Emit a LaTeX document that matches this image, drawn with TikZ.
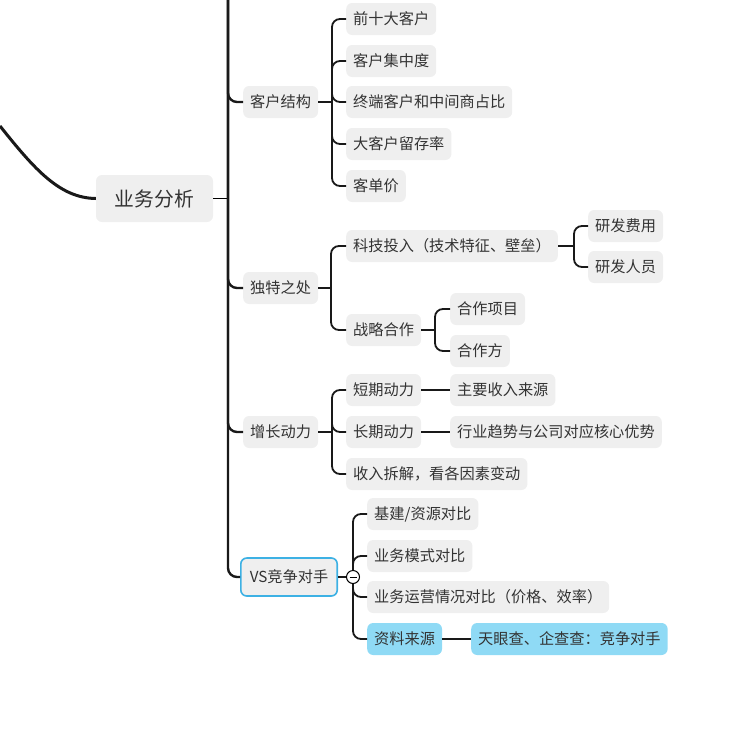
\documentclass[tikz,border=0pt]{standalone}
\usepackage{fontspec}
\setmainfont{Noto Sans CJK SC}
\usetikzlibrary{positioning}

\definecolor{boxgray}{HTML}{EFEFEF}
\definecolor{boxblue}{HTML}{8FDAF5}
\definecolor{edgeblue}{HTML}{3DB1E4}
\definecolor{txt}{HTML}{333333}

\tikzset{
	topic/.style={rounded corners=6pt,fill=boxgray,text=txt,inner xsep=7pt,inner ysep=0pt,
		minimum height=32pt,anchor=west,font=\fontsize{15.2}{18}\selectfont},
	hot/.style={topic,fill=boxblue},
	link/.style={line width=1.8pt,rounded corners=8pt,color=black!90},
	trunk/.style={line width=2.4pt,rounded corners=9pt,color=black!90}
}

\begin{document}
\begin{tikzpicture}[x=1pt,y=-1pt]
	\useasboundingbox (0,0) rectangle (731,747);
	% root
	\node[topic,anchor=center,minimum width=117pt,minimum height=47pt,
		font=\fontsize{19.8}{23}\selectfont] (main) at (154.5,198.5) {业务分析};
	\draw[line width=3pt,color=black!90] (0,126) .. controls (35,170) and (60,198) .. (main.west);
	% first level
	\node[topic] (kh) at (243,102) {客户结构};
	\node[topic] (dt) at (243,288) {独特之处};
	\node[topic] (zz) at (243,432) {增长动力};
	\node[topic,draw=edgeblue,line width=1.6pt,minimum height=38pt,inner xsep=9pt] (vs) at (240,577) {VS竞争对手};
	\coordinate (top) at (228,0);
	\draw[line width=1.8pt] (main.east) -- (main.east -| top);
	\draw[trunk] (top) |- (kh.west);
	\draw[trunk] (top) |- (dt.west);
	\draw[trunk] (top) |- (zz.west);
	\draw[trunk] (top) |- (vs.west);
	% 客户结构
	\foreach \n/\y/\t in {k1/19/前十大客户,k2/61/客户集中度,k3/102/终端客户和中间商占比,k4/144/大客户留存率,k5/186/客单价}
		\node[topic] (\n) at (346,\y) {\t};
	\coordinate (khbus) at (332,102);
	\draw[link] (kh.east) -- (khbus);
	\foreach \n in {k1,k2,k3,k4,k5}
		\draw[link] (khbus) |- (\n.west);
	% 独特之处
	\node[topic] (d1) at (346,246) {科技投入（技术特征、壁垒）};
	\node[topic] (d2) at (346,330) {战略合作};
	\coordinate (dtbus) at (331,288);
	\draw[link] (dt.east) -- (dtbus);
	\foreach \n in {d1,d2}
		\draw[link] (dtbus) |- (\n.west);
	\node[topic] (d11) at (588,226) {研发费用};
	\node[topic] (d12) at (588,267) {研发人员};
	\coordinate (d1bus) at (574,246);
	\draw[link] (d1.east) -- (d1bus);
	\foreach \n in {d11,d12}
		\draw[link] (d1bus) |- (\n.west);
	\node[topic] (d21) at (450,309) {合作项目};
	\node[topic] (d22) at (450,351) {合作方};
	\coordinate (d2bus) at (435,330);
	\draw[link] (d2.east) -- (d2bus);
	\foreach \n in {d21,d22}
		\draw[link] (d2bus) |- (\n.west);
	% 增长动力
	\node[topic] (z1) at (346,390) {短期动力};
	\node[topic] (z2) at (346,432) {长期动力};
	\node[topic] (z3) at (346,474) {收入拆解，看各因素变动};
	\coordinate (zzbus) at (332,432);
	\draw[link] (zz.east) -- (zzbus);
	\foreach \n in {z1,z2,z3}
		\draw[link] (zzbus) |- (\n.west);
	\node[topic] (z11) at (450,390) {主要收入来源};
	\node[topic] (z21) at (450,432) {行业趋势与公司对应核心优势};
	\draw[link] (z1.east) -- (z11.west);
	\draw[link] (z2.east) -- (z21.west);
	% VS竞争对手
	\node[circle,draw,fill=white,line width=1pt,minimum size=13pt,inner sep=0pt] (vscol) at (353,577) {};
	\draw[line width=1pt] ([xshift=-3.5pt]vscol.center) -- ([xshift=3.5pt]vscol.center);
	\draw[link] (vs.east) -- (vscol.west);
	\node[topic] (v1) at (367,514) {基建/资源对比};
	\node[topic] (v2) at (367,556) {业务模式对比};
	\node[topic] (v3) at (367,597) {业务运营情况对比（价格、效率）};
	\node[hot] (v4) at (367,639) {资料来源};
	\node[hot] (v41) at (471,639) {天眼查、企查查：竞争对手};
	\foreach \n in {v1,v2}
		\draw[link] (vscol.north) |- (\n.west);
	\foreach \n in {v3,v4}
		\draw[link] (vscol.south) |- (\n.west);
	\draw[link] (v4.east) -- (v41.west);
\end{tikzpicture}
\end{document}
